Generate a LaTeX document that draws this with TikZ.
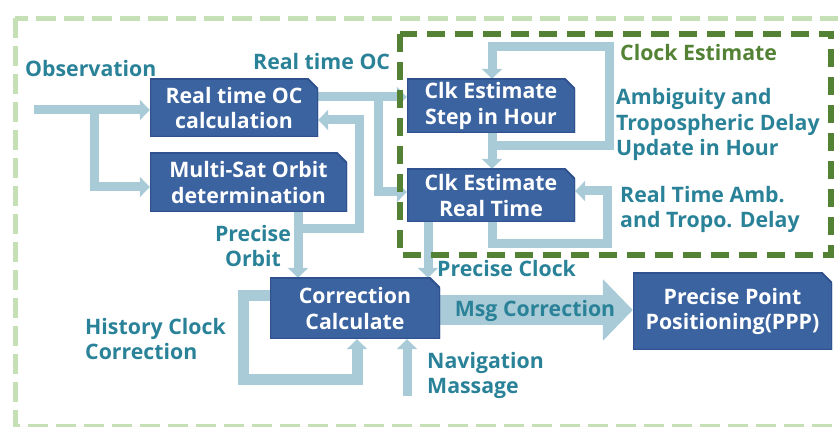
\documentclass[tikz,border=0pt]{standalone}
\usepackage{fontspec}
\setmainfont{Open Sans}
\usetikzlibrary{arrows.meta}
\definecolor{boxblue}{HTML}{3B63A0}
\definecolor{boxedge}{HTML}{2F528F}
\definecolor{arrowblue}{HTML}{A8CBD7}
\definecolor{tealtxt}{HTML}{2A8298}
\definecolor{dkgreen}{HTML}{548235}
\definecolor{ltgreen}{HTML}{C5E0B4}
\pgfdeclarelayer{bg}
\pgfdeclarelayer{mid}
\pgfsetlayers{bg,mid,main}
\newcommand{\lblfont}{\bfseries\fontsize{21.3}{25.5}\selectfont}
\tikzset{
  box/.style={inner sep=0pt, align=center, text=white, font=\lblfont,
    path picture={
      \fill[boxblue] (path picture bounding box.south west) -- (path picture bounding box.north west)
        -- ([xshift=-10pt]path picture bounding box.north east) -- ([yshift=-10pt]path picture bounding box.north east)
        -- (path picture bounding box.south east) -- cycle;
      \draw[boxedge, line width=2pt] (path picture bounding box.south west) -- (path picture bounding box.north west)
        -- ([xshift=-10pt]path picture bounding box.north east) -- ([yshift=-10pt]path picture bounding box.north east)
        -- (path picture bounding box.south east) -- cycle;
    }},
  arr/.style={draw=arrowblue, line width=9pt, -{Triangle[width=20pt,length=10pt]}},
  lbl/.style={text=tealtxt, font=\lblfont, inner sep=0pt, align=left},
  outerbox/.style={draw=ltgreen, line width=5pt, dash pattern=on 20pt off 8pt},
  innerbox/.style={draw=dkgreen, line width=6pt, dash pattern=on 18pt off 10pt},
}
\begin{document}
\begin{tikzpicture}[x=1pt,y=-1pt]
\useasboundingbox (0,0) rectangle (838,427);
\clip (0,0) rectangle (838,427);
% boxes
\node[box, minimum width=168pt, minimum height=58pt] (oc) at (234,108) {Real time OC\\calculation};
\node[box, minimum width=197pt, minimum height=59pt] (ms) at (248.5,182.5) {Multi-Sat Orbit\\determination};
\node[box, minimum width=168pt, minimum height=54pt] (cs) at (491,106) {Clk Estimate\\Step in Hour};
\node[box, minimum width=168pt, minimum height=53pt] (crt) at (491,195.5) {Clk Estimate\\Real Time};
\node[box, minimum width=170pt, minimum height=61pt] (cc) at (355,308.5) {Correction\\Calculate};
\node[box, minimum width=199pt, minimum height=77pt] (ppp) at (732.5,311.5) {Precise Point\\Positioning(PPP)};
% helper coordinates
\coordinate (obsin) at (34,110);
\coordinate (obsbr) at (94,110);
\coordinate (msin) at (0,187);
\coordinate (ocout) at (0,97);
\coordinate (ocbr) at (378,97);
\coordinate (crtin) at (0,192);
\coordinate (c298) at (298,0);
\coordinate (orbj) at (298,229);
\coordinate (fbtop) at (359,120);
\coordinate (c492) at (492,0);
\coordinate (lp1) at (492,146);
\coordinate (lp2) at (609,47);
\coordinate (rl1) at (607,244);
\coordinate (rlin) at (0,191);
\coordinate (c428) at (428,0);
\coordinate (msg) at (0,310);
\coordinate (hout) at (0,296);
\coordinate (hl) at (243,380);
\coordinate (c357) at (357,0);
\coordinate (navin) at (407,396);
% connectors
\begin{pgfonlayer}{bg}
\draw[arr] (obsin) -- (oc.west |- obsin);
\draw[arr] (obsbr) |- (ms.west |- msin);
\draw[arr] (oc.east |- ocout) -- (cs.west |- ocout);
\draw[arr] (ocbr) |- (crt.west |- crtin);
\draw[arr] (ms.south -| c298) -- (cc.north -| c298);
\draw[arr] (orbj) -| (fbtop) -- (oc.east |- fbtop);
\draw[arr] (cs.south -| c492) -- (crt.north -| c492);
\draw[arr] (lp1) -| (lp2) -| (cs.north -| c492);
\draw[arr] (crt.south -| c492) |- (rl1) |- (crt.east |- rlin);
\draw[arr] (crt.south -| c428) -- (cc.north -| c428);
\draw[draw=arrowblue, line width=30pt, -{Triangle[width=60pt,length=30pt]}] (cc.east |- msg) -- (ppp.west |- msg);
\draw[arr, line width=11pt] (cc.west |- hout) -| (hl) -| (cc.south -| c357);
\draw[arr] (navin) -- (cc.south -| navin);
\end{pgfonlayer}
\begin{pgfonlayer}{mid}
\draw[outerbox] (15,18.5) rectangle (846,426);
\draw[innerbox] (399.5,34) rectangle (831,255);
\end{pgfonlayer}
% labels
\node[lbl, anchor=west] (lobs) at (25,69) {Observation};
\node[lbl, anchor=west] (lroc) at (253,62) {Real time OC};
\node[lbl, anchor=west, text=dkgreen] (lce) at (620,53) {Clock Estimate};
\node[lbl, anchor=north west] (lamb) at (616,88.5) {Ambiguity and\\Tropospheric Delay\\Update in Hour};
\node[lbl, anchor=north west] (lrta) at (620,186) {Real Time Amb.\\and Tropo. Delay};
\node[lbl, align=center] (lpo) at (253,246) {Precise\\Orbit};
\node[lbl, anchor=west] (lpc) at (437,269) {Precise Clock};
\node[lbl, anchor=north west] (lhc) at (85,318) {History Clock\\Correction};
\node[lbl, anchor=north west] (lnav) at (427,352) {Navigation\\Massage};
\node[lbl] (lmsg) at (535,311) {Msg Correction};
\end{tikzpicture}
\end{document}
